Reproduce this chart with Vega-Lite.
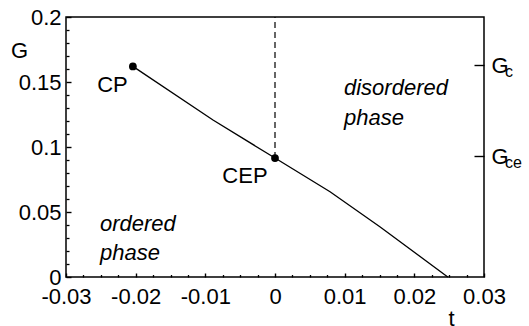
{
  "$schema": "https://vega.github.io/schema/vega-lite/v6.json",
  "width": 418,
  "height": 260,
  "autosize": {"type": "none"},
  "padding": {"left": 66, "top": 17, "right": 45, "bottom": 49},
  "background": "white",
  "config": {
    "view": {"stroke": "black", "strokeWidth": 1.5},
    "font": "Liberation Sans",
    "axis": {
      "labelColor": "black", "titleColor": "black",
      "labelFont": "Liberation Sans", "titleFont": "Liberation Sans",
      "labelFontSize": 22, "titleFontSize": 22, "titleFontWeight": "normal"
    }
  },
  "datasets": {
    "curve": [
      {"t": -0.0204, "G": 0.162},
      {"t": -0.0089, "G": 0.1208},
      {"t": 0.0, "G": 0.0915},
      {"t": 0.0079, "G": 0.0656},
      {"t": 0.0151, "G": 0.0385},
      {"t": 0.0248, "G": 0.0}
    ],
    "dash": [{"t": 0.0, "G": 0.0915, "G2": 0.2}],
    "crit": [{"t": -0.0204, "G": 0.162}, {"t": 0.0, "G": 0.0915}],
    "critlabels": [
      {"t": -0.02333, "G": 0.1423, "label": "CP"},
      {"t": -0.00431, "G": 0.0723, "label": "CEP"}
    ],
    "phases": [
      {"t": -0.02512, "G": 0.0354, "label": "ordered"},
      {"t": -0.02512, "G": 0.0131, "label": "phase"},
      {"t": 0.0099, "G": 0.14, "label": "disordered"},
      {"t": 0.0099, "G": 0.1169, "label": "phase"}
    ],
    "subs": [
      {"t": 0.03, "G": 0.163, "label": "c"},
      {"t": 0.03, "G": 0.093, "label": "ce"}
    ]
  },
  "resolve": {"axis": {"x": "independent", "y": "independent"}},
  "layer": [
    {
      "data": {"name": "curve"},
      "mark": {"type": "line", "color": "black", "strokeWidth": 1.3},
      "encoding": {
        "x": {"field": "t", "type": "quantitative",
          "scale": {"domain": [-0.03, 0.03], "nice": false, "zero": false},
          "axis": {"orient": "bottom", "grid": false, "domain": false, "labelOverlap": false, "labelFlush": false,
            "values": [-0.03, -0.02, -0.01, 0, 0.01, 0.02, 0.03],
            "labelExpr": "datum.value < 0 ? '-' + (-datum.value) : '' + datum.value",
            "ticks": true, "tickColor": "black", "tickWidth": 1.4, "tickSize": -4, "labelPadding": 13.5, "title": "t",
            "titleX": 385, "titleY": 48, "titleAlign": "center", "titleBaseline": "alphabetic"}},
        "y": {"field": "G", "type": "quantitative",
          "scale": {"domain": [0, 0.2], "nice": false, "zero": false},
          "axis": {"orient": "left", "grid": false, "domain": false, "labelOverlap": false, "labelFlush": false,
            "values": [0, 0.05, 0.1, 0.15, 0.2],
            "labelExpr": "'' + datum.value",
            "ticks": true, "tickColor": "black", "tickWidth": 1.4, "tickSize": -5, "labelPadding": 10, "title": "G", "titleAngle": 0,
            "titleX": -47, "titleY": 40, "titleAlign": "center", "titleBaseline": "alphabetic"}}
      }
    },
    {
      "data": {"name": "dash"},
      "mark": {"type": "rule", "color": "black", "strokeWidth": 1.2, "strokeDash": [6, 4]},
      "encoding": {
        "x": {"field": "t", "type": "quantitative",
          "scale": {"domain": [-0.03, 0.03], "nice": false, "zero": false},
          "axis": {"orient": "bottom", "grid": false, "domain": false, "labels": false, "title": null,
            "ticks": true, "tickColor": "black", "tickWidth": 1.3, "tickSize": -2.5,
            "values": [-0.0275, -0.025, -0.0225, -0.0175, -0.015, -0.0125, -0.0075, -0.005, -0.0025, 0.0025, 0.005, 0.0075, 0.0125, 0.015, 0.0175, 0.0225, 0.025, 0.0275]}},
        "y": {"field": "G", "type": "quantitative",
          "scale": {"domain": [0, 0.2], "nice": false, "zero": false},
          "axis": {"orient": "left", "grid": false, "domain": false, "labels": false, "title": null,
            "ticks": true, "tickColor": "black", "tickWidth": 1.3, "tickSize": -3,
            "values": [0.01, 0.02, 0.03, 0.04, 0.06, 0.07, 0.08, 0.09, 0.11, 0.12, 0.13, 0.14, 0.16, 0.17, 0.18, 0.19]}},
        "y2": {"field": "G2"}
      }
    },
    {
      "data": {"name": "crit"},
      "mark": {"type": "point", "filled": true, "color": "black", "size": 60, "opacity": 1},
      "encoding": {
        "x": {"field": "t", "type": "quantitative",
          "scale": {"domain": [-0.03, 0.03], "nice": false, "zero": false}, "axis": null},
        "y": {"field": "G", "type": "quantitative",
          "scale": {"domain": [0, 0.2], "nice": false, "zero": false},
          "axis": {"orient": "right", "grid": false, "domain": false, "labelOverlap": false, "labelFlush": false,
            "values": [0.163, 0.093], "labelExpr": "'G'",
            "ticks": true, "tickColor": "black", "tickWidth": 1.4, "tickSize": -10, "labelPadding": 17, "labelAlign": "left", "title": null}}
      }
    },
    {
      "data": {"name": "critlabels"},
      "mark": {"type": "text", "fontSize": 22, "align": "center", "baseline": "alphabetic", "color": "black", "font": "Liberation Sans"},
      "encoding": {
        "x": {"field": "t", "type": "quantitative", "scale": {"domain": [-0.03, 0.03], "nice": false, "zero": false}, "axis": null},
        "y": {"field": "G", "type": "quantitative", "scale": {"domain": [0, 0.2], "nice": false, "zero": false}, "axis": null},
        "text": {"field": "label"}
      }
    },
    {
      "data": {"name": "phases"},
      "mark": {"type": "text", "fontSize": 22, "fontStyle": "italic", "align": "left", "baseline": "alphabetic", "color": "black", "font": "Liberation Sans"},
      "encoding": {
        "x": {"field": "t", "type": "quantitative", "scale": {"domain": [-0.03, 0.03], "nice": false, "zero": false}, "axis": null},
        "y": {"field": "G", "type": "quantitative", "scale": {"domain": [0, 0.2], "nice": false, "zero": false}, "axis": null},
        "text": {"field": "label"}
      }
    },
    {
      "data": {"name": "subs"},
      "mark": {"type": "text", "fontSize": 16, "align": "left", "baseline": "alphabetic", "dx": 21, "dy": 12, "color": "black", "font": "Liberation Sans"},
      "encoding": {
        "x": {"field": "t", "type": "quantitative", "scale": {"domain": [-0.03, 0.03], "nice": false, "zero": false}, "axis": null},
        "y": {"field": "G", "type": "quantitative", "scale": {"domain": [0, 0.2], "nice": false, "zero": false}, "axis": null},
        "text": {"field": "label"}
      }
    }
  ]
}
